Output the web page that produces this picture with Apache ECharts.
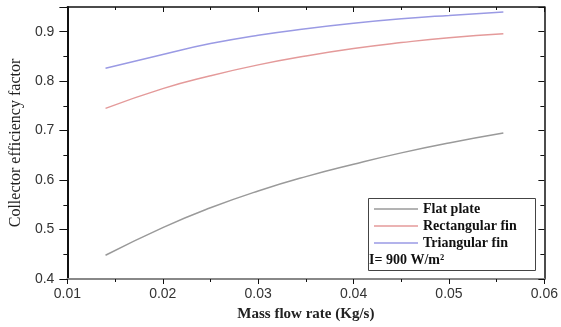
<!DOCTYPE html>
<html><head><meta charset="utf-8">
<script src="https://cdn.jsdelivr.net/npm/echarts@6/dist/echarts.min.js"></script>
<style>html,body{margin:0;padding:0;background:#fff}#c{width:561px;height:327px}</style>
</head><body><div id="c"></div>
<script>
const massFlow = [0.014, 0.02, 0.025, 0.03, 0.035, 0.04, 0.045, 0.05, 0.0557];
const flatPlate = [0.448, 0.504, 0.544, 0.578, 0.607, 0.632, 0.655, 0.675, 0.695];
const rectangularFin = [0.745, 0.785, 0.811, 0.833, 0.851, 0.866, 0.878, 0.888, 0.896];
const triangularFin = [0.826, 0.854, 0.876, 0.893, 0.906, 0.917, 0.926, 0.933, 0.940];
const seriesNames = ['Flat plate', 'Rectangular fin', 'Triangular fin'];
const seriesColors = ['#9a9a9a', '#e49a9a', '#9a9ae4'];
const annotation = 'I= 900 W/m²';

const pair = arr => massFlow.map((x, i) => [x, arr[i]]);
const values = [flatPlate, rectangularFin, triangularFin];

const chart = echarts.init(document.getElementById('c'));
const labelFont = { fontFamily: 'Liberation Sans, Arial, sans-serif', fontSize: 14, color: '#333' };
chart.setOption({
  animation: false,
  grid: { left: 63, right: 14, top: 7, bottom: 46 },
  xAxis: [{
    type: 'value', min: 0.01, max: 0.06, interval: 0.01, position: 'bottom',
    name: 'Mass flow rate (Kg/s)', nameLocation: 'middle', nameGap: 28,
    nameTextStyle: { fontFamily: 'Liberation Serif, Times New Roman, serif', fontWeight: 'bold', fontSize: 15, color: '#222' },
    axisLine: { onZero: false, lineStyle: { color: '#888', width: 2 } },
    axisTick: { show: true, inside: false, length: 5, lineStyle: { color: '#111' } },
    minorTick: { show: true, splitNumber: 2, length: 3, lineStyle: { color: '#111' } },
    axisLabel: Object.assign({ margin: 8, formatter: v => v.toFixed(2) }, labelFont),
    splitLine: { show: false }
  }, {
    type: 'value', min: 0.01, max: 0.06, interval: 0.01, position: 'top',
    axisLine: { onZero: false, lineStyle: { color: '#111', width: 1.5 } },
    axisTick: { show: true, inside: true, length: 5, lineStyle: { color: '#111' } },
    minorTick: { show: true, splitNumber: 2, length: 3, lineStyle: { color: '#111' } },
    axisLabel: { show: false }, splitLine: { show: false }
  }],
  yAxis: [{
    type: 'value', min: 0.4, max: 0.95, interval: 0.1, position: 'left',
    name: 'Collector efficiency factor', nameLocation: 'middle', nameGap: 39,
    nameTextStyle: { fontFamily: 'Liberation Serif, Times New Roman, serif', fontSize: 16, color: '#222' },
    axisLine: { onZero: false, lineStyle: { color: '#111', width: 2 } },
    axisTick: { show: true, inside: false, length: 8, lineStyle: { color: '#111' } },
    minorTick: { show: true, splitNumber: 2, length: 4, lineStyle: { color: '#111' } },
    axisLabel: Object.assign({ margin: 13, formatter: v => (Math.abs(v * 10 - Math.round(v * 10)) < 1e-6 ? v.toFixed(1) : '') }, labelFont),
    splitLine: { show: false }
  }, {
    type: 'value', min: 0.4, max: 0.95, interval: 0.1, position: 'right',
    axisLine: { onZero: false, lineStyle: { color: '#111', width: 1.5 } },
    axisTick: { show: true, inside: true, length: 6, lineStyle: { color: '#111' } },
    minorTick: { show: true, splitNumber: 2, length: 4, lineStyle: { color: '#111' } },
    axisLabel: { show: false }, splitLine: { show: false }
  }],
  legend: {
    orient: 'vertical', left: 369, top: 197, itemGap: 3,
    itemWidth: 44, itemHeight: 1.5, icon: 'rect',
    textStyle: { fontFamily: 'Liberation Serif, Times New Roman, serif', fontWeight: 'bold', fontSize: 14, color: '#111' },
    data: seriesNames
  },
  graphic: [
    { type: 'rect', left: 366, top: 196, shape: { width: 167, height: 72 }, style: { fill: 'none', stroke: '#444', lineWidth: 1 }, z: 10 },
    { type: 'text', left: 369, top: 253, style: { text: annotation, font: 'bold 14px "Liberation Serif", serif', fill: '#111' }, z: 10 }
  ],
  series: seriesNames.map((n, i) => ({
    name: n, type: 'line', smooth: true, symbol: 'none',
    data: pair(values[i]),
    lineStyle: { color: seriesColors[i], width: 1.5 },
    itemStyle: { color: seriesColors[i] }
  }))
});
</script></body></html>
